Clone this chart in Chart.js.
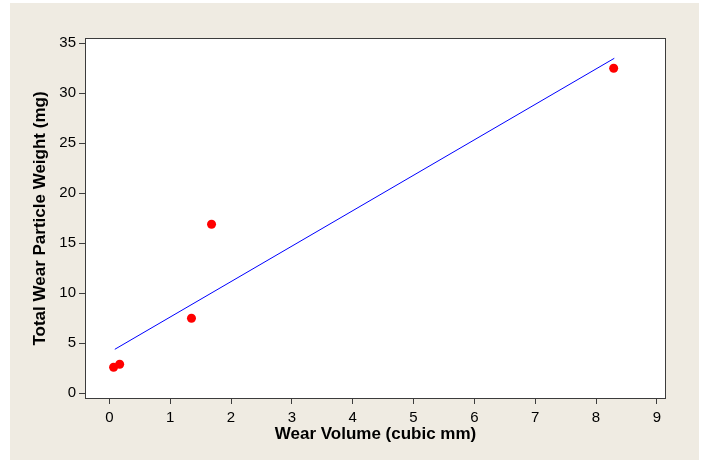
<!DOCTYPE html>
<html>
<head>
<meta charset="utf-8">
<script src="https://cdn.jsdelivr.net/npm/chart.js@4"></script>
<style>
    html, body { margin: 0; padding: 0; background: #ffffff; }
    #wrap { width: 709px; height: 461px; }
</style>
</head>
<body>
<div id="wrap"><canvas id="wearChart" width="709" height="461"></canvas></div>
<script>
// wear volume (cubic mm) vs total wear particle weight (mg)
const wearVolume = [0.07, 0.17, 1.35, 1.68, 8.29];
const particleWeight = [2.6, 2.9, 7.5, 16.9, 32.5];

// fitted line, end points
const fitVolume = [0.09, 8.30];
const fitWeight = [4.4, 33.5];

const xTicks = [0, 1, 2, 3, 4, 5, 6, 7, 8, 9];
const yTicks = [0, 5, 10, 15, 20, 25, 30, 35];

const frameColor = '#3c3c3c';
const tickFont = { family: 'Liberation Sans', size: 15 };
const titleFont = { family: 'Liberation Sans', size: 17, weight: 'bold' };

const backdrop = {
    id: 'backdrop',
    beforeDraw(chart) {
        const c = chart.ctx;
        const a = chart.chartArea;
        c.save();
        c.fillStyle = '#efebe2';
        c.fillRect(10, 3, 689, 457);
        c.fillStyle = '#ffffff';
        c.fillRect(a.left, a.top, a.right - a.left, a.bottom - a.top);
        c.restore();
    },
    afterDraw(chart) {
        const c = chart.ctx;
        const a = chart.chartArea;
        c.save();
        c.strokeStyle = frameColor;
        c.lineWidth = 1;
        c.strokeRect(a.left + 0.5, a.top + 0.5, a.right - a.left - 1, a.bottom - a.top - 1);
        c.restore();
    }
};

const ctx = document.getElementById('wearChart').getContext('2d');
const wearChart = new Chart(ctx, {
    type: 'scatter',
    data: {
        datasets: [{
            label: 'Observed',
            data: wearVolume.map((v, i) => ({ x: v, y: particleWeight[i] })),
            backgroundColor: '#ff0000',
            borderWidth: 0,
            pointRadius: 4.5,
            order: 1
        }, {
            label: 'Fit',
            type: 'line',
            data: fitVolume.map((v, i) => ({ x: v, y: fitWeight[i] })),
            borderColor: '#0000ff',
            borderWidth: 1,
            pointRadius: 0,
            fill: false,
            order: 2
        }]
    },
    options: {
        responsive: false,
        animation: false,
        layout: {
            padding: { left: 0, top: 38, right: 43, bottom: 0 }
        },
        plugins: {
            legend: { display: false },
            tooltip: { enabled: false }
        },
        scales: {
            x: {
                type: 'linear',
                min: -0.4,
                max: 9.15,
                afterBuildTicks: (scale) => { scale.ticks = xTicks.map(v => ({ value: v })); },
                afterFit: (scale) => { scale.height = 62; },
                grid: {
                    drawOnChartArea: false,
                    drawTicks: true,
                    tickLength: 5,
                    tickColor: frameColor
                },
                border: { display: false },
                ticks: {
                    font: tickFont,
                    color: '#000000',
                    padding: 5,
                    maxRotation: 0
                },
                title: {
                    display: true,
                    text: 'Wear Volume (cubic mm)',
                    font: titleFont,
                    color: '#000000',
                    padding: { top: 0, bottom: 16 }
                }
            },
            y: {
                type: 'linear',
                min: -0.57,
                max: 35.53,
                afterBuildTicks: (scale) => { scale.ticks = yTicks.map(v => ({ value: v })); },
                afterFit: (scale) => { scale.width = 85; },
                grid: {
                    drawOnChartArea: false,
                    drawTicks: true,
                    tickLength: 6,
                    tickColor: frameColor
                },
                border: { display: false },
                ticks: {
                    font: tickFont,
                    color: '#000000',
                    padding: 3
                },
                title: {
                    display: true,
                    text: 'Total Wear Particle Weight (mg)',
                    font: titleFont,
                    color: '#000000',
                    padding: { top: 30 }
                }
            }
        }
    },
    plugins: [backdrop]
});
</script>
</body>
</html>
